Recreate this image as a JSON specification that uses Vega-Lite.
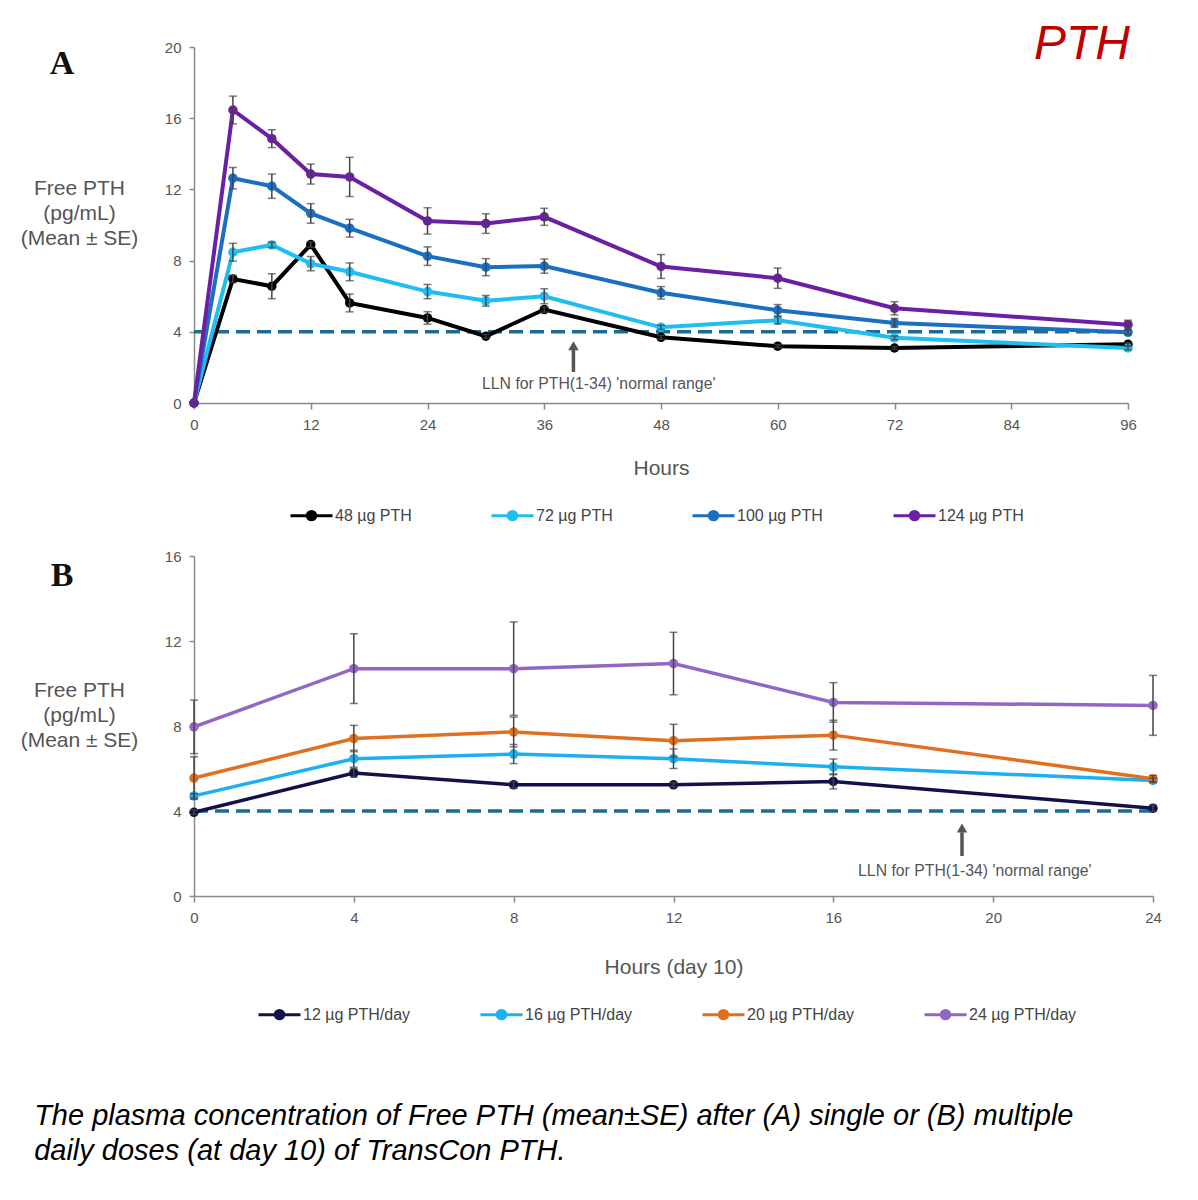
{
  "$schema": "https://vega.github.io/schema/vega-lite/v6.json",
  "background": "white",
  "padding": {"left": 20, "top": 21, "right": 10, "bottom": 10},
  "spacing": 23,
  "config": {
    "view": {"stroke": null},
    "font": "Liberation Sans",
    "axis": {"grid": false, "domainColor": "#8a8a8a", "domainWidth": 1.5, "tickColor": "#8a8a8a", "tickWidth": 1.5, "labelColor": "#555555", "labelFont": "Liberation Sans", "labelFontSize": 15, "titleColor": "#555555", "titleFont": "Liberation Sans", "titleFontSize": 21, "titleFontWeight": "normal"},
    "axisX": {"labelFlush": false},
    "legend": {"labelFont": "Liberation Sans", "labelFontSize": 16, "labelColor": "#444444", "labelOffset": 1, "symbolStrokeWidth": 3, "padding": 0}
  },
  "title": {
    "text": ["The plasma concentration of Free PTH (mean±SE) after (A) single or (B) multiple", "daily doses (at day 10) of TransCon PTH."],
    "orient": "bottom", "anchor": "start", "frame": "bounds", "fontSize": 29, "fontStyle": "italic", "fontWeight": "normal", "font": "Liberation Sans", "color": "#000000", "lineHeight": 35, "offset": 77, "dx": 14, "baseline": "top"
  },
  "datasets": {
    "a": [
      {"dose": "48 µg PTH", "hour": 0, "value": 0, "se": 0},
      {"dose": "48 µg PTH", "hour": 4, "value": 6.97, "se": 0.2},
      {"dose": "48 µg PTH", "hour": 8, "value": 6.56, "se": 0.7},
      {"dose": "48 µg PTH", "hour": 12, "value": 8.9, "se": 0.15},
      {"dose": "48 µg PTH", "hour": 16, "value": 5.62, "se": 0.5},
      {"dose": "48 µg PTH", "hour": 24, "value": 4.78, "se": 0.35},
      {"dose": "48 µg PTH", "hour": 30, "value": 3.75, "se": 0.1},
      {"dose": "48 µg PTH", "hour": 36, "value": 5.25, "se": 0.15},
      {"dose": "48 µg PTH", "hour": 48, "value": 3.69, "se": 0.1},
      {"dose": "48 µg PTH", "hour": 60, "value": 3.19, "se": 0.08},
      {"dose": "48 µg PTH", "hour": 72, "value": 3.09, "se": 0.08},
      {"dose": "48 µg PTH", "hour": 96, "value": 3.3, "se": 0.08},
      {"dose": "72 µg PTH", "hour": 0, "value": 0, "se": 0},
      {"dose": "72 µg PTH", "hour": 4, "value": 8.47, "se": 0.5},
      {"dose": "72 µg PTH", "hour": 8, "value": 8.88, "se": 0.15},
      {"dose": "72 µg PTH", "hour": 12, "value": 7.83, "se": 0.4},
      {"dose": "72 µg PTH", "hour": 16, "value": 7.37, "se": 0.5},
      {"dose": "72 µg PTH", "hour": 24, "value": 6.26, "se": 0.4},
      {"dose": "72 µg PTH", "hour": 30, "value": 5.74, "se": 0.3},
      {"dose": "72 µg PTH", "hour": 36, "value": 6.0, "se": 0.42},
      {"dose": "72 µg PTH", "hour": 48, "value": 4.25, "se": 0.12},
      {"dose": "72 µg PTH", "hour": 60, "value": 4.65, "se": 0.2},
      {"dose": "72 µg PTH", "hour": 72, "value": 3.66, "se": 0.1},
      {"dose": "72 µg PTH", "hour": 96, "value": 3.09, "se": 0.1},
      {"dose": "100 µg PTH", "hour": 0, "value": 0, "se": 0},
      {"dose": "100 µg PTH", "hour": 4, "value": 12.63, "se": 0.6},
      {"dose": "100 µg PTH", "hour": 8, "value": 12.18, "se": 0.68},
      {"dose": "100 µg PTH", "hour": 12, "value": 10.65, "se": 0.55},
      {"dose": "100 µg PTH", "hour": 16, "value": 9.82, "se": 0.5},
      {"dose": "100 µg PTH", "hour": 24, "value": 8.25, "se": 0.52},
      {"dose": "100 µg PTH", "hour": 30, "value": 7.63, "se": 0.48},
      {"dose": "100 µg PTH", "hour": 36, "value": 7.69, "se": 0.4},
      {"dose": "100 µg PTH", "hour": 48, "value": 6.19, "se": 0.35},
      {"dose": "100 µg PTH", "hour": 60, "value": 5.21, "se": 0.32},
      {"dose": "100 µg PTH", "hour": 72, "value": 4.5, "se": 0.25},
      {"dose": "100 µg PTH", "hour": 96, "value": 3.97, "se": 0.12},
      {"dose": "124 µg PTH", "hour": 0, "value": 0, "se": 0},
      {"dose": "124 µg PTH", "hour": 4, "value": 16.46, "se": 0.78},
      {"dose": "124 µg PTH", "hour": 8, "value": 14.85, "se": 0.5},
      {"dose": "124 µg PTH", "hour": 12, "value": 12.86, "se": 0.56},
      {"dose": "124 µg PTH", "hour": 16, "value": 12.7, "se": 1.1},
      {"dose": "124 µg PTH", "hour": 24, "value": 10.23, "se": 0.74},
      {"dose": "124 µg PTH", "hour": 30, "value": 10.08, "se": 0.55},
      {"dose": "124 µg PTH", "hour": 36, "value": 10.46, "se": 0.48},
      {"dose": "124 µg PTH", "hour": 48, "value": 7.67, "se": 0.67},
      {"dose": "124 µg PTH", "hour": 60, "value": 7.01, "se": 0.57},
      {"dose": "124 µg PTH", "hour": 72, "value": 5.32, "se": 0.37},
      {"dose": "124 µg PTH", "hour": 96, "value": 4.4, "se": 0.25}
    ],
    "b": [
      {"dose": "12 µg PTH/day", "hour": 0, "value": 3.94, "se": 0.1},
      {"dose": "12 µg PTH/day", "hour": 4, "value": 5.79, "se": 0.2},
      {"dose": "12 µg PTH/day", "hour": 8, "value": 5.23, "se": 0.15},
      {"dose": "12 µg PTH/day", "hour": 12, "value": 5.23, "se": 0.1},
      {"dose": "12 µg PTH/day", "hour": 16, "value": 5.39, "se": 0.35},
      {"dose": "12 µg PTH/day", "hour": 24, "value": 4.13, "se": 0.15},
      {"dose": "16 µg PTH/day", "hour": 0, "value": 4.71, "se": 0.1},
      {"dose": "16 µg PTH/day", "hour": 4, "value": 6.46, "se": 0.4},
      {"dose": "16 µg PTH/day", "hour": 8, "value": 6.68, "se": 0.45},
      {"dose": "16 µg PTH/day", "hour": 12, "value": 6.46, "se": 0.46},
      {"dose": "16 µg PTH/day", "hour": 16, "value": 6.08, "se": 0.37},
      {"dose": "16 µg PTH/day", "hour": 24, "value": 5.44, "se": 0.1},
      {"dose": "20 µg PTH/day", "hour": 0, "value": 5.55, "se": 1.0},
      {"dose": "20 µg PTH/day", "hour": 4, "value": 7.41, "se": 0.62},
      {"dose": "20 µg PTH/day", "hour": 8, "value": 7.72, "se": 0.7},
      {"dose": "20 µg PTH/day", "hour": 12, "value": 7.31, "se": 0.77},
      {"dose": "20 µg PTH/day", "hour": 16, "value": 7.57, "se": 0.7},
      {"dose": "20 µg PTH/day", "hour": 24, "value": 5.52, "se": 0.15},
      {"dose": "24 µg PTH/day", "hour": 0, "value": 7.96, "se": 1.26},
      {"dose": "24 µg PTH/day", "hour": 4, "value": 10.7, "se": 1.64},
      {"dose": "24 µg PTH/day", "hour": 8, "value": 10.7, "se": 2.2},
      {"dose": "24 µg PTH/day", "hour": 12, "value": 10.94, "se": 1.47},
      {"dose": "24 µg PTH/day", "hour": 16, "value": 9.11, "se": 0.93},
      {"dose": "24 µg PTH/day", "hour": 24, "value": 8.97, "se": 1.41}
    ]
  },
  "resolve": {"scale": {"x": "independent", "y": "independent", "color": "independent"}, "legend": {"color": "independent"}, "axis": {"x": "independent", "y": "independent"}},
  "vconcat": [
    {
      "width": 934,
      "height": 356,
      "data": {"name": "a"},
      "encoding": {
        "x": {"field": "hour", "type": "quantitative", "scale": {"domain": [0, 96], "nice": false}, "axis": {"values": [0, 12, 24, 36, 48, 60, 72, 84, 96], "title": "Hours", "titleY": 65, "titleBaseline": "middle", "tickSize": 6, "labelPadding": 8}},
        "y": {"field": "value", "type": "quantitative", "scale": {"domain": [0, 20], "nice": false}, "axis": {"values": [0, 4, 8, 12, 16, 20], "title": ["Free PTH", "(pg/mL)", "(Mean ± SE)"], "titleAngle": 0, "titleAlign": "center", "titleBaseline": "alphabetic", "titleX": -115, "titleY": 147, "titleLineHeight": 25, "tickSize": 5, "labelPadding": 8}}
      },
      "layer": [
        {
          "data": {"values": [{"hour": 0, "hour2": 96, "value": 4}]},
          "mark": {"type": "rule", "strokeDash": [14, 7], "strokeWidth": 3.5, "color": "#1d6c92"},
          "encoding": {"x2": {"field": "hour2"}}
        },
        {
          "mark": {"type": "line", "strokeWidth": 4, "point": {"filled": true, "size": 90}},
          "encoding": {
            "color": {"field": "dose", "type": "nominal", "scale": {"domain": ["48 µg PTH", "72 µg PTH", "100 µg PTH", "124 µg PTH"], "range": ["#000000", "#1fbdf0", "#1a6fc2", "#6b1fa3"]},
              "legend": {"orient": "none", "legendX": 95, "legendY": 446, "direction": "horizontal", "columns": 4, "title": null, "symbolType": "M-1,0L1,0M0.2,0A0.2,0.2,0,1,1,-0.2,0A0.2,0.2,0,1,1,0.2,0M0.07,0A0.07,0.07,0,1,1,-0.07,0A0.07,0.07,0,1,1,0.07,0", "symbolSize": 1764, "columnPadding": 64, "gridAlign": "all"}}
          }
        },
        {
          "mark": {"type": "errorbar", "ticks": {"size": 8}, "color": "#444444", "thickness": 1.5},
          "encoding": {"yError": {"field": "se"}}
        },
        {
          "data": {"values": [{"hour": 39, "value": 1.74, "value2": 3.0}]},
          "mark": {"type": "rule", "strokeWidth": 3.5, "color": "#555555"},
          "encoding": {"y2": {"field": "value2"}}
        },
        {
          "data": {"values": [{"hour": 39, "value": 3.22}]},
          "mark": {"type": "point", "shape": "triangle-up", "filled": true, "size": 110, "color": "#555555", "opacity": 1}
        },
        {
          "data": {"values": [{"hour": 41.6, "value": 1.07, "note": "LLN for PTH(1-34) 'normal range'"}]},
          "mark": {"type": "text", "fontSize": 15.8, "color": "#555555", "align": "center", "baseline": "middle"},
          "encoding": {"text": {"field": "note"}}
        },
        {
          "data": {"values": [{"hour": 96.2, "value": 20.1, "note": "PTH"}]},
          "mark": {"type": "text", "fontSize": 48, "fontStyle": "italic", "color": "#c00000", "align": "right", "baseline": "middle"},
          "encoding": {"text": {"field": "note"}}
        },
        {
          "data": {"values": [{"hour": -13.57, "value": 18.48, "note": "A"}]},
          "mark": {"type": "text", "font": "Liberation Serif", "fontSize": 34, "fontWeight": "bold", "color": "#111111", "align": "center", "baseline": "alphabetic"},
          "encoding": {"text": {"field": "note"}}
        }
      ]
    },
    {
      "width": 959,
      "height": 340,
      "data": {"name": "b"},
      "encoding": {
        "x": {"field": "hour", "type": "quantitative", "scale": {"domain": [0, 24], "nice": false}, "axis": {"values": [0, 4, 8, 12, 16, 20, 24], "title": "Hours (day 10)", "titleY": 71, "titleBaseline": "middle", "tickSize": 6, "labelPadding": 8}},
        "y": {"field": "value", "type": "quantitative", "scale": {"domain": [0, 16], "nice": false}, "axis": {"values": [0, 4, 8, 12, 16], "title": ["Free PTH", "(pg/mL)", "(Mean ± SE)"], "titleAngle": 0, "titleAlign": "center", "titleBaseline": "alphabetic", "titleX": -115, "titleY": 140, "titleLineHeight": 25, "tickSize": 5, "labelPadding": 8}}
      },
      "layer": [
        {
          "data": {"values": [{"hour": 0, "hour2": 24, "value": 4}]},
          "mark": {"type": "rule", "strokeDash": [14, 7], "strokeWidth": 3.5, "color": "#1d6c92"},
          "encoding": {"x2": {"field": "hour2"}}
        },
        {
          "mark": {"type": "line", "strokeWidth": 3.5, "point": {"filled": true, "size": 90}},
          "encoding": {
            "color": {"field": "dose", "type": "nominal", "scale": {"domain": ["12 µg PTH/day", "16 µg PTH/day", "20 µg PTH/day", "24 µg PTH/day"], "range": ["#12124a", "#1bb0ef", "#e0701f", "#9466c4"]},
              "legend": {"orient": "none", "legendX": 63, "legendY": 436, "direction": "horizontal", "columns": 4, "title": null, "symbolType": "M-1,0L1,0M0.2,0A0.2,0.2,0,1,1,-0.2,0A0.2,0.2,0,1,1,0.2,0M0.07,0A0.07,0.07,0,1,1,-0.07,0A0.07,0.07,0,1,1,0.07,0", "symbolSize": 1764, "columnPadding": 63, "gridAlign": "all"}}
          }
        },
        {
          "mark": {"type": "errorbar", "ticks": {"size": 8}, "color": "#444444", "thickness": 1.5},
          "encoding": {"yError": {"field": "se"}}
        },
        {
          "data": {"values": [{"hour": 19.22, "value": 1.88, "value2": 3.0}]},
          "mark": {"type": "rule", "strokeWidth": 3.5, "color": "#555555"},
          "encoding": {"y2": {"field": "value2"}}
        },
        {
          "data": {"values": [{"hour": 19.22, "value": 3.2}]},
          "mark": {"type": "point", "shape": "triangle-up", "filled": true, "size": 110, "color": "#555555", "opacity": 1}
        },
        {
          "data": {"values": [{"hour": 19.54, "value": 1.18, "note": "LLN for PTH(1-34) 'normal range'"}]},
          "mark": {"type": "text", "fontSize": 15.8, "color": "#555555", "align": "center", "baseline": "middle"},
          "encoding": {"text": {"field": "note"}}
        },
        {
          "data": {"values": [{"hour": -3.3, "value": 14.59, "note": "B"}]},
          "mark": {"type": "text", "font": "Liberation Serif", "fontSize": 34, "fontWeight": "bold", "color": "#111111", "align": "center", "baseline": "alphabetic"},
          "encoding": {"text": {"field": "note"}}
        }
      ]
    }
  ]
}
